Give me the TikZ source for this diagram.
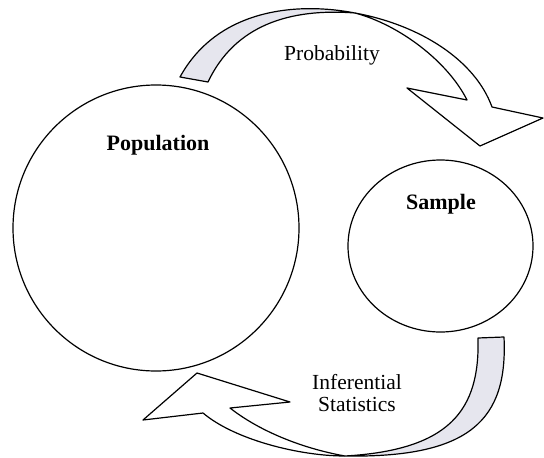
\documentclass[tikz,border=0pt]{standalone}
\usepackage{fontspec}
\setmainfont{Liberation Serif}
\usepackage{xcolor}
\usepackage{tikz}
\usetikzlibrary{shapes.geometric}

\definecolor{ribbongray}{RGB}{230,230,238}

\begin{document}
\begin{tikzpicture}[
    x=1pt, y=-1pt,
    set/.style={draw, line width=1.2pt, inner sep=0pt},
    title/.style={font=\bfseries\fontsize{22}{22}\selectfont, inner sep=0pt},
    caption/.style={font=\fontsize{21.5}{22}\selectfont, align=center, inner sep=0pt},
    ribbon/.style={draw, line width=1.2pt, line join=round, fill=white},
    twist/.style={ribbon, fill=ribbongray}
]
\useasboundingbox (0,0) rectangle (544,458);

% Sets
\node[set, circle, minimum size=286pt] (population) at (156,228) {};
\node[set, ellipse, minimum width=185pt, minimum height=172pt] (sample) at (440.5,246) {};
\node[title] (poptext) at (158,145) {Population};
\node[title] (samptext) at (441,204) {Sample};

% Probability arrow
\draw[twist] (180,77) .. controls (218,8) and (298,2) .. (355,13)
    .. controls (290,8) and (235,25) .. (208,82) -- cycle;
\draw[ribbon] (355,13) .. controls (420,25) and (475,60) .. (492,107)
    -- (543,118) -- (480,146) -- (407,88) -- (467,100)
    .. controls (448,62) and (400,25) .. (355,13);
\node[caption] (probtext) at (332,55) {Probability};

% Inferential statistics arrow
\draw[twist] (504,337) .. controls (508,420) and (470,458) .. (345,456)
    .. controls (450,450) and (480,410) .. (478,338) -- cycle;
\draw[ribbon] (345,456) .. controls (300,456) and (235,440) .. (203,413)
    -- (143,420) -- (197,373) -- (290,402) -- (230,408)
    .. controls (258,430) and (300,448) .. (345,456);
\node[caption] (inftext) at (357,393) {Inferential\\Statistics};

\end{tikzpicture}
\end{document}
